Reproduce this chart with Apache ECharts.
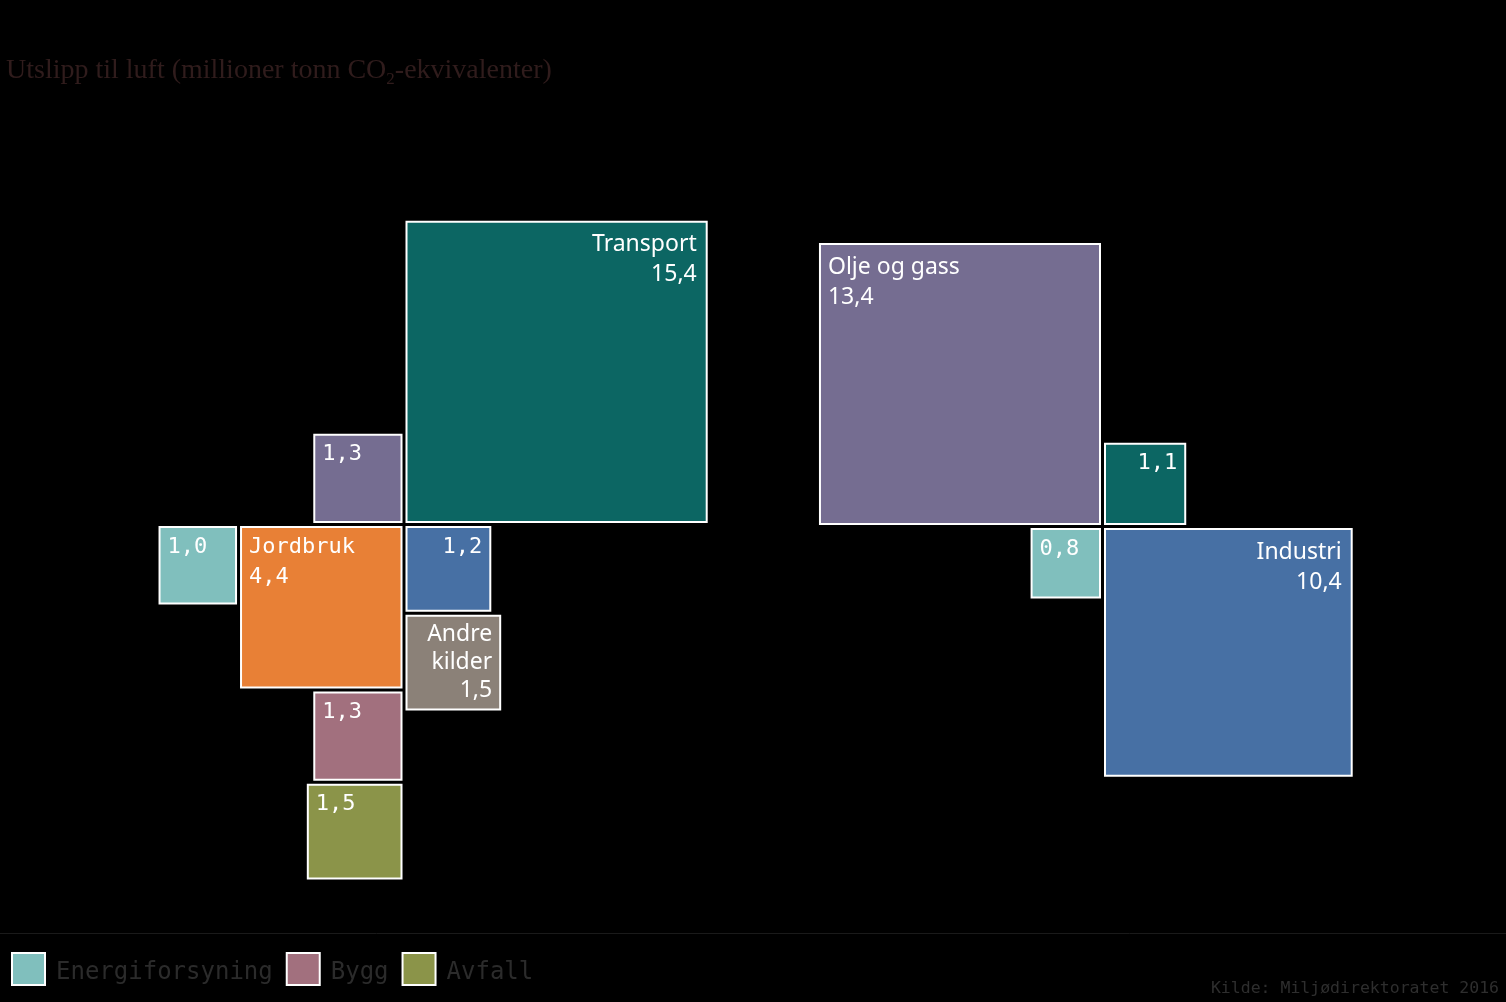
<!DOCTYPE html>
<html>
<head>
<meta charset="utf-8">
<script src="https://cdn.jsdelivr.net/npm/echarts@6/dist/echarts.min.js"></script>
<style>
html,body{margin:0;padding:0;background:#000;}
#chart{width:1506px;height:1002px;}
</style>
</head>
<body>
<div id="chart"></div>
<script>
// ---- Data ----
const sectors = ['Transport', 'Olje og gass', 'Industri', 'Jordbruk', 'Energiforsyning', 'Bygg', 'Avfall', 'Andre kilder'];
// left cluster (venstre gruppe) and right cluster (høyre gruppe), millioner tonn CO2-ekv.
const leftValues  = [15.4, 1.3, 1.2, 4.4, 1.0, 1.3, 1.5, 1.5];
const rightValues = [1.1, 13.4, 10.4, null, 0.8, null, null, null];
const legendSectors = ['Energiforsyning', 'Bygg', 'Avfall'];
const titleText = 'Utslipp til luft (millioner tonn CO';
const titleSub = '2';
const titleEnd = '-ekvivalenter)';
const sourceText = 'Kilde: Miljødirektoratet 2016';

// ---- Styles ----
const sectorColors = ['#0c6663', '#756d91', '#4770a4', '#e88036', '#80bfbd', '#a2707e', '#8b9449', '#8b8178'];

// ---- Layout (placement rules, squares sized by sqrt of value) ----
const K = 76.5;   // axis units per sqrt(value)
const GAP = 5;
const CLUSTERS = [
  { values: leftValues, center: [404, 524.5], place: [
    ['Transport', { quad: 'NE' }],
    ['Olje og gass', { quad: 'NW' }],
    ['Jordbruk', { quad: 'SW' }],
    ['Industri', { quad: 'SE' }],
    ['Energiforsyning', { leftOf: 'Jordbruk' }],
    ['Bygg', { below: 'Jordbruk' }],
    ['Avfall', { below: 'Bygg' }],
    ['Andre kilder', { below: 'Industri' }]
  ]},
  { values: rightValues, center: [1102.5, 526.5], place: [
    ['Olje og gass', { quad: 'NW' }],
    ['Transport', { quad: 'NE' }],
    ['Energiforsyning', { quad: 'SW' }],
    ['Industri', { quad: 'SE' }]
  ]}
];

function computeLayout() {
  return CLUSTERS.map(cl => {
    const [cx, cy] = cl.center;
    const rects = {};
    for (const [name, rule] of cl.place) {
      const v = cl.values[sectors.indexOf(name)];
      const s = K * Math.sqrt(v);
      let x0, y0;
      if (rule.quad) {
        const east = rule.quad.indexOf('E') >= 0, north = rule.quad.indexOf('N') >= 0;
        x0 = east ? cx + GAP / 2 : cx - GAP / 2 - s;
        y0 = north ? cy - GAP / 2 - s : cy + GAP / 2;
      } else if (rule.leftOf) {
        const ref = rects[rule.leftOf];
        x0 = ref.x0 - GAP - s; y0 = ref.y0;
      } else if (rule.below) {
        const ref = rects[rule.below];
        y0 = ref.y1 + GAP;
        x0 = (ref.x1 <= cx) ? ref.x1 - s : ref.x0;
      }
      rects[name] = { x0: x0, y0: y0, x1: x0 + s, y1: y0 + s, left: (x0 + s / 2) < cx };
    }
    return rects;
  });
}
const layout = computeLayout();

function fmt(v) { return v.toFixed(1).replace('.', ','); }

function sectorMax(i) {
  return Math.max(...CLUSTERS.map(c => c.values[i] == null ? -Infinity : c.values[i]));
}

function renderItem(params, api) {
  const si = params.seriesIndex;
  const name = sectors[si];
  const ci = api.value(0);
  const v = api.value(1);
  const r = layout[ci][name];
  const p0 = api.coord([r.x0, r.y0]);
  const p1 = api.coord([r.x1, r.y1]);
  const x = Math.min(p0[0], p1[0]), y = Math.min(p0[1], p1[1]);
  const w = Math.abs(p1[0] - p0[0]), h = Math.abs(p1[1] - p0[1]);
  const showName = legendSectors.indexOf(name) < 0 && v === sectorMax(si);
  const narrow = w < 120;
  const spaced = v < 5 && !(showName && narrow);
  let text = fmt(v);
  if (showName) text = (narrow ? name.split(' ').join('\n') : name) + '\n' + text;
  const alignLeft = r.left;
  const big = w > 200;
  return {
    type: 'group',
    children: [
      { type: 'rect', shape: { x: x, y: y, width: w, height: h },
        style: { fill: api.visual('color'), stroke: '#ffffff', lineWidth: 2 } },
      { type: 'text', x: alignLeft ? x + 8 : x + w - (big ? 10 : 8), y: y + (big ? 8 : 5),
        style: { text: text, fill: '#ffffff',
          fontFamily: spaced ? '"DejaVu Sans Mono"' : '"Noto Sans"',
          fontSize: spaced ? 22 : 23,
          lineHeight: narrow && !spaced ? 28 : 30,
          align: alignLeft ? 'left' : 'right', verticalAlign: 'top' } }
    ]
  };
}

const series = sectors.map((name, i) => {
  const data = [];
  CLUSTERS.forEach((c, ci) => { if (c.values[i] != null) data.push([ci, c.values[i]]); });
  return {
    type: 'custom', name: name, coordinateSystem: 'cartesian2d',
    itemStyle: { color: sectorColors[i] },
    renderItem: renderItem, data: data, silent: true, animation: false
  };
});

const chart = echarts.init(document.getElementById('chart'), null, { renderer: 'canvas' });
chart.setOption({
  backgroundColor: '#000000',
  animation: false,
  grid: { left: 0, right: 0, top: 0, bottom: 0 },
  xAxis: { type: 'value', min: 0, max: 1506, show: false },
  yAxis: { type: 'value', min: 0, max: 1002, inverse: true, show: false },
  title: {
    text: '{a|' + titleText + '}{s|' + titleSub + '}{a|' + titleEnd + '}',
    left: 6, top: 54, padding: 0,
    textStyle: {
      fontWeight: 'normal',
      rich: {
        a: { fontFamily: '"Liberation Serif"', fontSize: 28, fontWeight: 'normal', color: '#301c1c', lineHeight: 34 },
        s: { fontFamily: '"Liberation Serif"', fontSize: 17, fontWeight: 'normal', color: '#301c1c', lineHeight: 15, verticalAlign: 'bottom' }
      }
    }
  },
  legend: {
    data: legendSectors,
    left: 11, top: 952, padding: 0,
    icon: 'rect', itemWidth: 33, itemHeight: 32, itemGap: 13,
    selectedMode: false,
    itemStyle: { borderColor: '#ffffff', borderWidth: 2 },
    formatter: '{t|{name}}',
    textStyle: {
      fontFamily: '"DejaVu Sans Mono"', fontSize: 24, color: '#2b2b2b',
      rich: { t: { fontFamily: '"DejaVu Sans Mono"', fontSize: 24, color: '#2b2b2b', padding: [7, 0, 0, 6] } }
    }
  },
  graphic: [
    { type: 'line', shape: { x1: 0, y1: 933.5, x2: 1506, y2: 933.5 }, style: { stroke: '#1a1a1a', lineWidth: 1 }, silent: true },
    { type: 'text', right: 7, top: 980, style: { text: sourceText, fill: '#2e2e2e', fontFamily: '"DejaVu Sans Mono"', fontSize: 16.5 } }
  ],
  series: series
});
</script>
</body>
</html>
